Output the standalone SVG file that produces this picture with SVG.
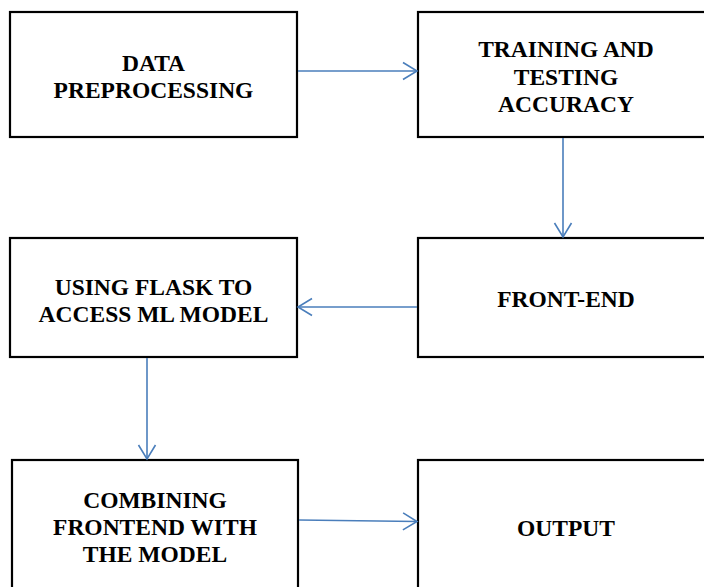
<svg xmlns="http://www.w3.org/2000/svg" width="704" height="587" viewBox="0 0 704 587">
<style>
.box{fill:#fff;stroke:#000;stroke-width:2.2}
.t{font-family:"Liberation Serif","Times New Roman",serif;font-weight:bold;font-size:23.5px;fill:#000;text-anchor:middle}
.c{fill:none;stroke:#4a7ebb;stroke-width:1.6}
</style>
<defs>
<marker id="ah" markerUnits="userSpaceOnUse" markerWidth="20" markerHeight="20" viewBox="0 0 20 20" refX="16" refY="10" orient="auto">
<path d="M2,1.5 L16,10 L2,18.5" fill="none" stroke="#4a7ebb" stroke-width="1.6"/>
</marker>
</defs>
<rect width="704" height="587" fill="#fff"/>
<g id="n1"><rect class="box" x="10" y="12" width="287" height="125"/>
<text class="t" x="153.5" y="71">DATA</text><text class="t" x="153.5" y="98">PREPROCESSING</text></g>
<g id="n2"><rect class="box" x="418" y="12" width="300" height="125"/>
<text class="t" x="566" y="57">TRAINING AND</text><text class="t" x="566" y="85">TESTING</text><text class="t" x="566" y="112">ACCURACY</text></g>
<g id="n3"><rect class="box" x="10" y="238" width="287" height="119"/>
<text class="t" x="153.5" y="295">USING FLASK TO</text><text class="t" x="153.5" y="322">ACCESS ML MODEL</text></g>
<g id="n4"><rect class="box" x="418" y="238" width="300" height="119"/>
<text class="t" x="566" y="307">FRONT-END</text></g>
<g id="n5"><rect class="box" x="12" y="460" width="286" height="140"/>
<text class="t" x="155" y="508">COMBINING</text><text class="t" x="155" y="535">FRONTEND WITH</text><text class="t" x="155" y="562">THE MODEL</text></g>
<g id="n6"><rect class="box" x="418" y="460" width="300" height="140"/>
<text class="t" x="566" y="536">OUTPUT</text></g>
<g id="connectors">
<line class="c" x1="298" y1="71" x2="417" y2="71" marker-end="url(#ah)"/>
<line class="c" x1="563" y1="138" x2="563" y2="237" marker-end="url(#ah)"/>
<line class="c" x1="417" y1="307" x2="298" y2="307" marker-end="url(#ah)"/>
<line class="c" x1="147" y1="358" x2="147" y2="459" marker-end="url(#ah)"/>
<line class="c" x1="299" y1="520" x2="417" y2="521.5" marker-end="url(#ah)"/>
</g>
</svg>
